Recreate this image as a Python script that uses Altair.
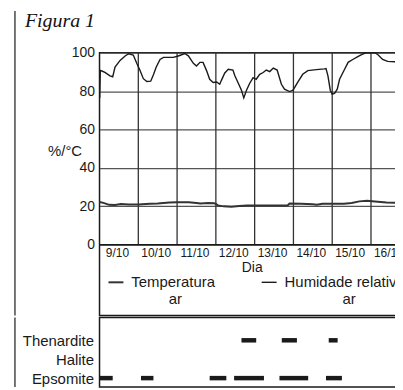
import altair as alt
import pandas as pd

# ---- data ----
days = [9, 10, 11, 12, 13, 14, 15, 16]
grid_days = [10, 11, 12, 13, 14, 15, 16]

series_names = ["Temperatura ar", "Humidade relativa ar"]

hum_day = [9.005, 9.02, 9.06, 9.14, 9.27, 9.34, 9.40, 9.53, 9.66, 9.75, 9.87, 9.96,
           10.04, 10.13, 10.22, 10.32, 10.39, 10.46, 10.56, 10.65, 10.90, 11.03, 11.20,
           11.29, 11.42, 11.50, 11.59, 11.67, 11.76, 11.84, 11.93, 12.02, 12.10, 12.14,
           12.23, 12.32, 12.44, 12.49, 12.59, 12.66, 12.72, 12.79, 12.87, 12.96, 13.04,
           13.13, 13.22, 13.30, 13.39, 13.48, 13.58, 13.69, 13.77, 13.90, 13.99, 14.12,
           14.24, 14.37, 14.59, 14.80, 14.84, 14.89, 14.95, 15.00, 15.06, 15.13, 15.19,
           15.31, 15.41, 15.53, 15.66, 15.77, 15.87, 16.10, 16.18, 16.30, 16.43, 16.64, 16.85]
hum_val = [76.5, 90.8, 90.5, 89.8, 88.0, 87.5, 92.5, 96.0, 98.3, 99.5, 98.8, 94.5,
           91.0, 86.5, 85.0, 85.2, 88.5, 92.5, 96.5, 97.6, 97.6, 98.3, 99.6,
           98.4, 94.5, 93.1, 95.0, 95.0, 90.7, 86.2, 84.5, 84.8, 83.6, 85.5,
           89.5, 91.4, 91.0, 88.0, 83.6, 80.5, 76.5, 80.5, 84.0, 87.0, 86.2,
           88.8, 89.7, 91.0, 90.2, 92.0, 91.0, 83.6, 81.0, 79.8, 80.5, 85.0,
           88.8, 90.7, 91.2, 91.6, 91.8, 88.0, 80.5, 78.4, 78.8, 81.0, 86.2,
           91.0, 95.0, 96.5, 98.0, 99.2, 100.0, 100.0, 99.0, 96.5, 95.5, 95.3, 95.3]

temp_day = [9.0, 9.1, 9.25, 9.4, 9.55, 9.75, 10.0, 10.3, 10.5, 10.8, 11.0, 11.3, 11.5,
            11.6, 11.8, 11.95, 12.0, 12.05, 12.2, 12.4, 12.6, 12.8, 13.2, 13.6, 13.85,
            13.9, 14.2, 14.5, 14.6, 14.75, 14.95, 15.3, 15.5, 15.7, 15.9, 16.1, 16.4, 16.85]
temp_val = [22.3, 21.8, 20.8, 20.7, 21.2, 21.0, 21.0, 21.3, 21.5, 22.0, 22.2, 22.2, 21.8,
            21.5, 21.8, 21.6, 21.3, 20.5, 20.0, 19.8, 20.2, 20.4, 20.4, 20.4, 20.5,
            21.5, 21.4, 21.1, 20.8, 21.3, 21.3, 21.4, 21.8, 22.6, 22.9, 22.5, 22.0, 21.8]

salt_names = ["Thenardite", "Halite", "Epsomite"]
salt_mineral = ["Epsomite"] * 6 + ["Thenardite"] * 3
salt_start = [9.0, 10.07, 11.84, 12.47, 13.64, 14.84, 12.66, 13.70, 14.91]
salt_end = [9.34, 10.39, 12.27, 13.24, 14.38, 15.25, 13.04, 14.09, 15.14]

# ---- tables ----
df_lines = pd.concat([
    pd.DataFrame({"dia": temp_day, "valor": temp_val, "serie": series_names[0]}),
    pd.DataFrame({"dia": hum_day, "valor": hum_val, "serie": series_names[1]}),
])
df_grid = pd.DataFrame({"dia": grid_days})
df_salts = pd.DataFrame({"sal": salt_mineral, "inicio": salt_start, "fim": salt_end})
one = pd.DataFrame({"k": [0]})

FONT = "Liberation Sans"
INK = "#1a1a1a"
W = 306
H_TOP = 264
H_PLOT = 193
H_SALT = 70

xscale = alt.Scale(domain=[9, 16.85], nice=False, zero=False)
yscale = alt.Scale(domain=[0, 100], range=[H_PLOT, 0], nice=False)

zw = "\u200b"
nb = "\u00a0"
legend_expr = ("datum.label == 'Temperatura ar' ? ['Temperatura', '" + zw + nb * 9 + "ar'] : "
               "['Humidade relativa', '" + zw + nb * 14 + "ar']")

vgrid = alt.Chart(df_grid).mark_rule(color="#333", strokeWidth=1.3).encode(
    x=alt.X("dia:Q", scale=xscale),
    y=alt.datum(0, scale=yscale),
    y2=alt.datum(100),
)

zero_line = alt.Chart(one).mark_rule(color=INK, strokeWidth=1.5).encode(
    y=alt.datum(0, scale=yscale)
)

lines = alt.Chart(df_lines).mark_line().encode(
    x=alt.X("dia:Q", scale=xscale,
            axis=alt.Axis(orient="bottom", offset=-(H_TOP - H_PLOT), values=days,
                          labelExpr="datum.value + '/10'", labelOffset=17.5,
                          grid=False, ticks=False, domain=False, labelPadding=3,
                          labelFontSize=12, labelFont=FONT, labelColor=INK,
                          labelOverlap=False, labelFlush=False,
                          title="Dia", titleFont=FONT, titleFontSize=14,
                          titleFontWeight="normal", titleColor=INK, titlePadding=2)),
    y=alt.Y("valor:Q", scale=yscale,
            axis=alt.Axis(values=list(range(0, 101, 10)),
                          labelExpr="datum.value % 20 == 0 ? datum.label : ''",
                          grid=True, gridColor="#555", gridWidth=1.2,
                          ticks=False, domain=False, labelPadding=5,
                          labelFontSize=14, labelFont=FONT, labelColor=INK,
                          title="%/°C", titleAngle=0, titleAlign="right",
                          titleBaseline="middle", titleX=-18, titleY=98,
                          titleFont=FONT, titleFontSize=15, titleFontWeight="normal",
                          titleColor=INK)),
    color=alt.Color("serie:N",
                    scale=alt.Scale(domain=series_names, range=["#333333", "#1a1a1a"]),
                    legend=alt.Legend(orient="none", legendX=8, legendY=222,
                                      direction="horizontal", title=None,
                                      symbolType="stroke", symbolSize=225,
                                      symbolStrokeWidth=2, labelFont=FONT,
                                      labelFontSize=15, labelColor=INK,
                                      labelOffset=7, columnPadding=43,
                                      labelExpr=legend_expr, labelBaseline="middle",
                                      padding=0, labelLimit=300)),
    strokeWidth=alt.StrokeWidth("serie:N",
                                scale=alt.Scale(domain=series_names, range=[2.0, 1.4]),
                                legend=None),
)

left_border_top = alt.Chart(one).mark_rule(color=INK, strokeWidth=1.2).encode(
    x=alt.value(-85), y=alt.value(-42), y2=alt.value(H_TOP)
)

fig_title = alt.Chart(one).mark_text(
    font="Liberation Serif", fontStyle="italic", fontSize=20, align="left",
    baseline="alphabetic", color="#111"
).encode(x=alt.value(-75), y=alt.value(-26), text=alt.value("Figura 1"))

top = alt.layer(vgrid, zero_line, lines, left_border_top, fig_title).properties(
    width=W, height=H_TOP
)

salts = alt.Chart(df_salts).mark_rule(strokeWidth=4.5, color="#1a1a1a").encode(
    x=alt.X("inicio:Q", scale=xscale, axis=None),
    x2="fim:Q",
    y=alt.Y("sal:N",
            scale=alt.Scale(type="point", domain=salt_names, padding=0.842, align=0.72),
            axis=alt.Axis(title=None, domain=False, ticks=False, grid=False,
                          labelPadding=6, labelFontSize=15, labelFont=FONT,
                          labelColor=INK)),
)

left_border_bot = alt.Chart(one).mark_rule(color=INK, strokeWidth=1.2).encode(
    x=alt.value(-85), y=alt.value(0), y2=alt.value(H_SALT)
)

bottom = alt.layer(salts, left_border_bot).properties(width=W, height=H_SALT)

chart = alt.vconcat(top, bottom, spacing=-6).properties(
    padding={"left": 5, "top": 0, "right": -14, "bottom": 0}
).configure(font=FONT).configure_view(stroke="#1a1a1a", strokeWidth=1.5)

chart.save("out.html", embed_options={"renderer": "svg", "actions": False})
